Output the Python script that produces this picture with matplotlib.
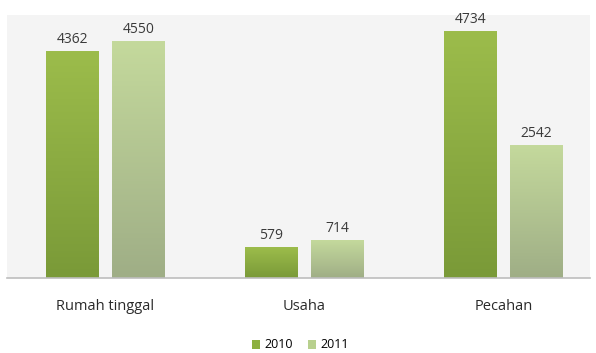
import matplotlib.pyplot as plt
import numpy as np
from matplotlib.colors import LinearSegmentedColormap
from matplotlib.patches import Patch

categories = ["Rumah tinggal", "Usaha", "Pecahan"]
years = ["2010", "2011"]
values_2010 = [4362, 579, 4734]
values_2011 = [4550, 714, 2542]

plt.rcParams['font.family'] = ['Open Sans', 'DejaVu Sans']

# top / bottom colours of the gradient fill for each series
grad_colors = {
    "2010": ("#9cbc4b", "#7a9a38"),
    "2011": ("#c4d99c", "#9fae86"),
}
legend_colors = {"2010": "#8db040", "2011": "#b8d08e"}

fig = plt.figure(figsize=(5.96, 3.53), dpi=100)
ax = fig.add_axes([7 / 596, 1 - 278 / 353, 583 / 596, 263 / 353])
ax.set_facecolor("#f4f4f4")

width = 0.266
offsets = [-0.166, 0.166]
x = np.arange(len(categories))
ramp = np.linspace(0, 1, 100).reshape(-1, 1)

for year, vals, off in zip(years, [values_2010, values_2011], offsets):
    top, bottom = grad_colors[year]
    cmap = LinearSegmentedColormap.from_list(year, [bottom, top])
    for xi, v in zip(x, vals):
        x0 = xi + off - width / 2
        ax.imshow(ramp, extent=[x0, x0 + width, 0, v], origin="lower",
                  aspect="auto", cmap=cmap, zorder=2)
        ax.text(xi + off, v + 90, str(v), ha="center", va="bottom",
                fontsize=10, color="#3a3a3a", zorder=3)

ax.set_xlim(-0.495, 2.435)
ax.set_ylim(0, 5058)

for s in ["top", "right", "left"]:
    ax.spines[s].set_visible(False)
ax.spines["bottom"].set_color("#bdbdbd")
ax.spines["bottom"].set_linewidth(1.2)
ax.set_yticks([])
ax.set_xticks(x)
ax.set_xticklabels(categories, fontsize=10.5, color="#2a2a2a")
ax.tick_params(axis="x", length=0, pad=15)

handles = [Patch(facecolor=legend_colors[y], edgecolor="none", label=y) for y in years]
fig.legend(handles=handles, loc="center", bbox_to_anchor=(300 / 596, 1 - 345 / 353),
           ncol=2, frameon=False, fontsize=9, handlelength=0.7, handleheight=0.7,
           handletextpad=0.3, columnspacing=1.2)

fig.savefig("out.png", dpi=100)
